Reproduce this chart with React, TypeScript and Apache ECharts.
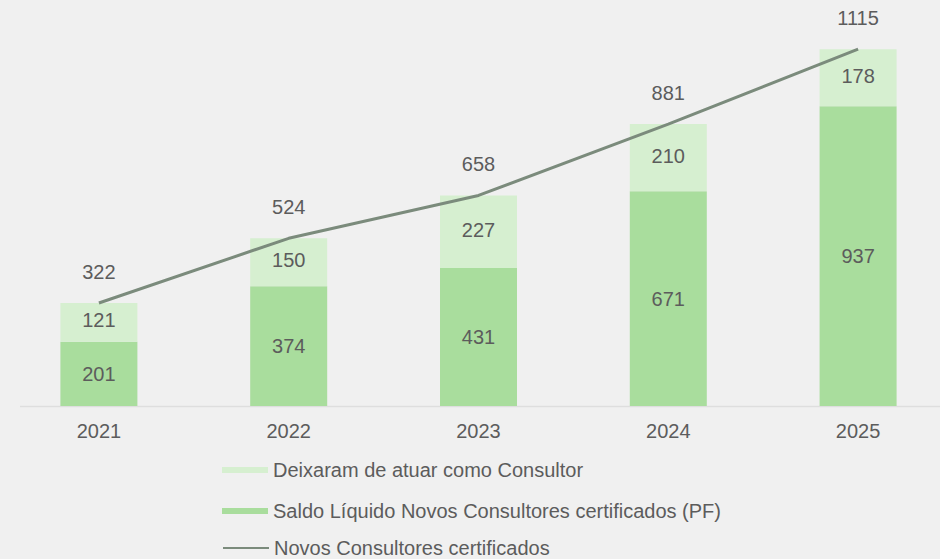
import React, { useEffect, useRef } from "react";
import * as echarts from "echarts";

const years = ["2021", "2022", "2023", "2024", "2025"];
const saldoLiquido = [201, 374, 431, 671, 937];
const deixaram = [121, 150, 227, 210, 178];
const novosCertificados = [322, 524, 658, 881, 1115];

const NAME_DEIXARAM = "Deixaram de atuar como Consultor";
const NAME_SALDO = "Saldo Líquido Novos Consultores certificados (PF)";
const NAME_NOVOS = "Novos Consultores certificados";

const FONT = "'Liberation Sans', Arial, sans-serif";
const TEXT = "#5c5c5c";
const FS = 20;

export default function App() {
  const ref = useRef<HTMLDivElement>(null);
  useEffect(() => {
    if (!ref.current) return;
    const chart = echarts.init(ref.current, undefined, { renderer: "svg" });
    const gridTop = 22;
    const gridBottom = 153;
    const baseY = 559 - gridBottom;
    const legendBase = {
      orient: "horizontal",
      left: 222,
      padding: 0,
      itemWidth: 46,
      itemHeight: 6,
      textStyle: { color: TEXT, fontSize: FS, fontFamily: FONT },
    };
    chart.setOption({
      animation: false,
      backgroundColor: "#f0f0f0",
      textStyle: { fontFamily: FONT },
      grid: { left: 4, right: 1, top: gridTop, bottom: gridBottom, containLabel: false },
      xAxis: {
        type: "category",
        data: years,
        axisLine: { show: false },
        axisTick: { show: false },
        axisLabel: { color: TEXT, fontSize: FS, margin: 15, fontFamily: FONT },
      },
      yAxis: {
        type: "value",
        min: 0,
        max: 1200,
        show: false,
        splitLine: { show: false },
      },
      graphic: [
        {
          type: "line",
          shape: { x1: 20, y1: baseY + 0.5, x2: 940, y2: baseY + 0.5 },
          style: { stroke: "#dedede", lineWidth: 1.5 },
          z: 0,
        },
      ],
      legend: [
        { ...legendBase, top: 460, data: [{ name: NAME_DEIXARAM, icon: "rect" }] },
        { ...legendBase, top: 501, data: [{ name: NAME_SALDO, icon: "rect" }] },
        { ...legendBase, top: 538, data: [{ name: NAME_NOVOS }] },
      ],
      series: [
        {
          name: NAME_SALDO,
          type: "bar",
          stack: "total",
          barWidth: 77,
          data: saldoLiquido,
          itemStyle: { color: "#a9dd9d" },
          label: {
            show: true,
            position: "inside",
            color: TEXT,
            fontSize: FS,
            fontFamily: FONT,
          },
        },
        {
          name: NAME_DEIXARAM,
          type: "bar",
          stack: "total",
          barWidth: 77,
          data: deixaram,
          itemStyle: { color: "#d6efd0" },
          label: {
            show: true,
            position: "inside",
            color: TEXT,
            fontSize: FS,
            fontFamily: FONT,
            offset: [0, -2],
          },
        },
        {
          name: NAME_NOVOS,
          type: "line",
          data: novosCertificados,
          symbol: "circle",
          symbolSize: 2,
          showSymbol: true,
          lineStyle: { color: "#7b8b7c", width: 3 },
          itemStyle: { color: "transparent", borderWidth: 0 },
          z: 5,
          label: {
            show: true,
            position: "top",
            distance: 20,
            color: TEXT,
            fontSize: FS,
            fontFamily: FONT,
          },
        },
      ],
    });
    return () => chart.dispose();
  }, []);
  return (
    <div
      ref={ref}
      style={{ position: "fixed", left: 0, top: 0, width: 954, height: 559 }}
    />
  );
}
